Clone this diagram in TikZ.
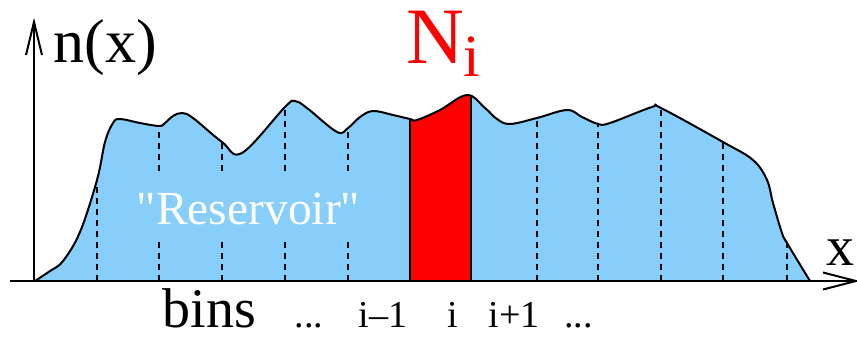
\documentclass[tikz,border=0pt]{standalone}
\usepackage{fontspec}
\setmainfont{Liberation Serif}
\newfontfamily\rawserif{Liberation Serif}[Ligatures=ResetAll]
\definecolor{skyb}{RGB}{135,206,250}
\begin{document}
\begin{tikzpicture}[x=1pt,y=-1pt,
  lbl/.style={inner sep=0pt,anchor=base},
  curveline/.style={line width=2pt,line join=round},
  axisline/.style={line width=2pt},
  binline/.style={line width=2pt,dash pattern=on 6pt off 5pt},
  edgeline/.style={line width=2pt}]
\useasboundingbox (0,0) rectangle (857,338);
\def\curve{plot[smooth,tension=0.6] coordinates {(35,281) (50,271) (63,261) (80,232) (97,180) (105,142) (113,123) (120,119) (140,123) (159,126) (165,123) (173,116) (182,113) (193,118) (222,142) (242,153) (285,107) (295,101) (307,108) (337,132) (348,128) (360,117) (373,111) (393,115) (410,119) (417,120) (440,110) (467,95) (485,108) (497,119) (510,124) (537,118) (567,110) (582,117) (598,124) (610,123) (652,107) (661,108) (723,142) (753,160) (767,180) (773,203) (782,233) (787,243) (810,281)}}
% blue region
\fill[skyb] \curve -- cycle;
% red bin
\begin{scope}
  \clip (410,0) rectangle (471,281);
  \fill[red] \curve -- cycle;
\end{scope}
% bin lines
\begin{scope}
  \clip \curve -- cycle;
  \foreach \bx in {97,159,222,285,348,537,598,661,723,787}
    \draw[binline] (\bx,281) -- (\bx,60);
  \node[lbl,fill=skyb,text=white,font=\rawserif\fontsize{47.5}{50}\selectfont,
        text height=51pt,text depth=16pt] (res) at (248.5,224) {"Reservoir"};
  \draw[edgeline] (410,281) -- (410,60);
  \draw[edgeline] (471,281) -- (471,60);
\end{scope}
% outline
\draw[curveline] \curve;
% axes
\coordinate (o) at (34,281);
\coordinate (ytip) at (34,22);
\coordinate (xstart) at (10,281);
\coordinate (xtip) at (856,281);
\draw[axisline] (o) -- (ytip);
\draw[axisline] (xstart) -- (xtip);
\draw[axisline,line join=miter] (26,55) -- (ytip) -- (42,55);
\draw[axisline,line join=miter] (823,272.5) -- (xtip) -- (823,289.5);
% labels
\node[lbl,font=\fontsize{62}{66}\selectfont] (nx) at (105,62) {n(x)};
\node[lbl,font=\fontsize{56}{60}\selectfont] (xl) at (840,265) {x};
\node[lbl,anchor=base west,text=red,font=\fontsize{80}{84}\selectfont] (Ni) at (406,63) {N\raisebox{-13pt}{\fontsize{60}{64}\selectfont i}};
\node[lbl,font=\fontsize{56}{60}\selectfont] (bins) at (209.5,327) {bins};
\node[lbl,font=\fontsize{38}{42}\selectfont] (d1) at (309,327) {...};
\node[lbl,font=\fontsize{38}{42}\selectfont] (im) at (383,327) {i–1};
\node[lbl,font=\fontsize{38}{42}\selectfont] (ii) at (453,327) {i};
\node[lbl,font=\fontsize{38}{42}\selectfont] (ip) at (514,327) {i+1};
\node[lbl,font=\fontsize{38}{42}\selectfont] (d2) at (578.5,327) {...};
\end{tikzpicture}
\end{document}
